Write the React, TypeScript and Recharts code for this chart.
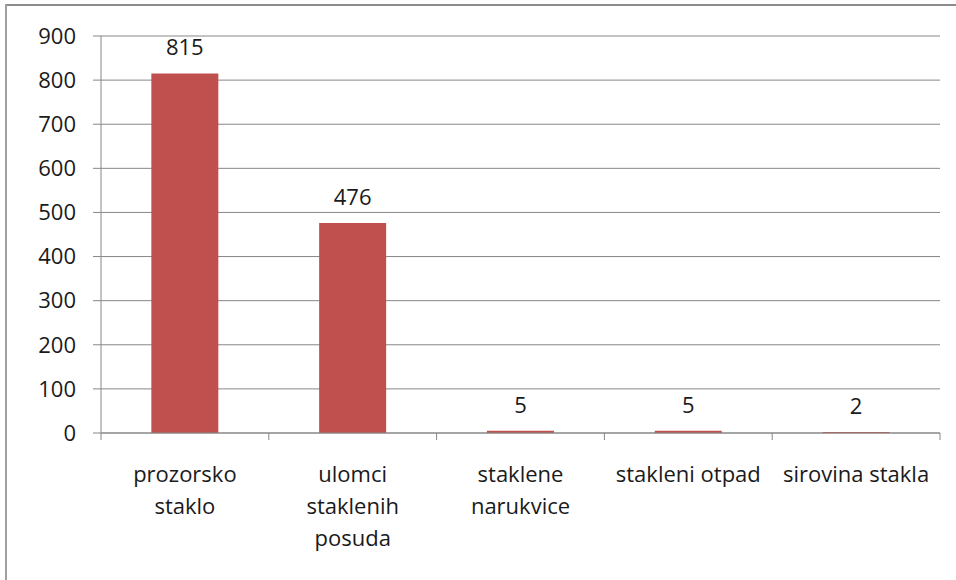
import { Bar, BarChart, CartesianGrid, LabelList, XAxis, YAxis } from "recharts";

const categories = [
  "prozorsko staklo",
  "ulomci staklenih posuda",
  "staklene narukvice",
  "stakleni otpad",
  "sirovina stakla",
];
// tick labels as they wrap in the original
const tickLabels = [
  ["prozorsko", "staklo"],
  ["ulomci", "staklenih", "posuda"],
  ["staklene", "narukvice"],
  ["stakleni otpad"],
  ["sirovina stakla"],
];
const counts = [815, 476, 5, 5, 2];
const yTicks = [0, 100, 200, 300, 400, 500, 600, 700, 800, 900];

const data = categories.map((name, i) => ({ name, value: counts[i] }));

const CHART_W = 956;
const CHART_H = 580;
const Y_W = 101;
const MARGIN = { top: 36, right: 16, bottom: 7, left: 0 };
const PLOT_W = CHART_W - Y_W - MARGIN.left - MARGIN.right;

const FONT = "'Open Sans', sans-serif";
const TEXT = "#1a1a1a";
const GRID = "#878787";

const CategoryTick = (props: any) => {
  const { x, y, index } = props;
  const half = PLOT_W / categories.length / 2;
  const lines = tickLabels[index] || [];
  return (
    <g>
      <line x1={x - half} x2={x - half} y1={y} y2={y + 7} stroke={GRID} />
      {index === categories.length - 1 && (
        <line x1={x + half} x2={x + half} y1={y} y2={y + 7} stroke={GRID} />
      )}
      <text
        x={x}
        y={y + 49}
        textAnchor="middle"
        fill={TEXT}
        style={{ fontFamily: FONT, fontSize: 22 }}
      >
        {lines.map((l, i) => (
          <tspan key={i} x={x} dy={i === 0 ? 0 : 32}>
            {l}
          </tspan>
        ))}
      </text>
    </g>
  );
};

export default function App() {
  return (
    <div
      style={{
        position: "absolute",
        left: 0,
        top: 0,
        width: CHART_W,
        height: CHART_H,
        background: "#fff",
        overflow: "hidden",
      }}
    >
      <svg
        width={CHART_W}
        height={CHART_H}
        style={{ position: "absolute", left: 0, top: 0 }}
      >
        <line x1={6} x2={CHART_W} y1={5} y2={5} stroke="#8c8c8c" strokeWidth={2} />
        <line x1={6} x2={6} y1={4} y2={CHART_H} stroke="#a0a0a0" strokeWidth={2} />
      </svg>
      <div style={{ position: "absolute", left: 0, top: 0 }}>
        <BarChart
          width={CHART_W}
          height={CHART_H}
          data={data}
          margin={MARGIN}
          barCategoryGap="30%"
        >
          <CartesianGrid vertical={false} stroke={GRID} strokeWidth={1} />
          <YAxis
            width={Y_W}
            domain={[0, 900]}
            ticks={yTicks}
            interval={0}
            tickSize={8}
            tickMargin={17}
            stroke={GRID}
            tick={{ fill: TEXT, fontSize: 22, fontFamily: FONT }}
          />
          <XAxis
            dataKey="name"
            height={140}
            interval={0}
            tickSize={0}
            tickMargin={0}
            tickLine={false}
            stroke={GRID}
            tick={<CategoryTick />}
          />
          <Bar dataKey="value" fill="#C0504D" isAnimationActive={false}>
            <LabelList
              dataKey="value"
              position="top"
              offset={18}
              fill={TEXT}
              style={{ fontFamily: FONT, fontSize: 22 }}
            />
          </Bar>
        </BarChart>
      </div>
    </div>
  );
}
